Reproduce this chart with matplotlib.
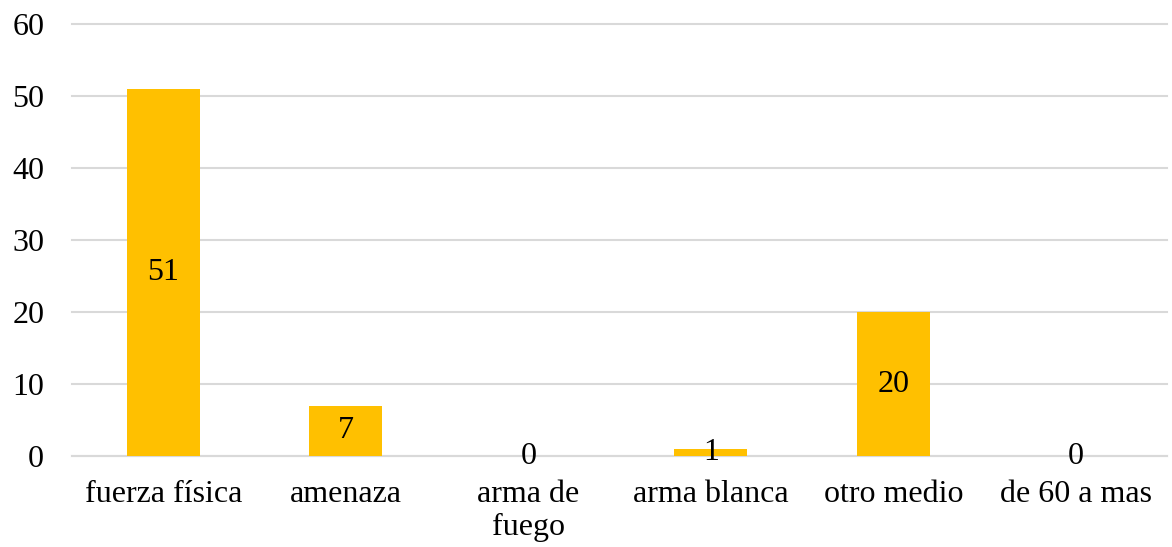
import matplotlib
matplotlib.use("Agg")
import matplotlib.pyplot as plt

categories = ["fuerza física", "amenaza", "arma de\nfuego", "arma blanca", "otro medio", "de 60 a mas"]
values = [51, 7, 0, 1, 20, 0]
yticks = [0, 10, 20, 30, 40, 50, 60]

plt.rcParams['font.family'] = ['Liberation Serif', 'DejaVu Serif']

fig = plt.figure(figsize=(11.72, 5.47), dpi=100)
ax = fig.add_axes([72/1172, 1 - 456/547, (1167-72)/1172, (456-24)/547])

x = list(range(len(categories)))
ax.bar(x, values, width=0.4, color="#FFC000", zorder=3)
for xi, v in zip(x, values):
    ax.text(xi, v / 2, str(v), ha="center", va="center", fontsize=23, color="black", zorder=4)

ax.set_xlim(-0.5, len(categories) - 0.5)
ax.set_ylim(0, 60)
ax.set_yticks(yticks)
ax.set_yticklabels([str(t) for t in yticks], fontsize=23)
ax.set_xticks(x)
ax.set_xticklabels(categories, fontsize=23, linespacing=1.2)
ax.yaxis.grid(True, color="#D9D9D9", linewidth=1.5, zorder=0)
for gl in ax.get_ygridlines():
    gl.set_clip_on(False)
ax.tick_params(axis="both", length=0)
ax.tick_params(axis="y", pad=20)
ax.tick_params(axis="x", pad=17)
for s in ["top", "right", "left"]:
    ax.spines[s].set_visible(False)
ax.spines["bottom"].set_color("#D9D9D9")
ax.spines["bottom"].set_linewidth(1.5)

fig.savefig("out.png", dpi=100)
